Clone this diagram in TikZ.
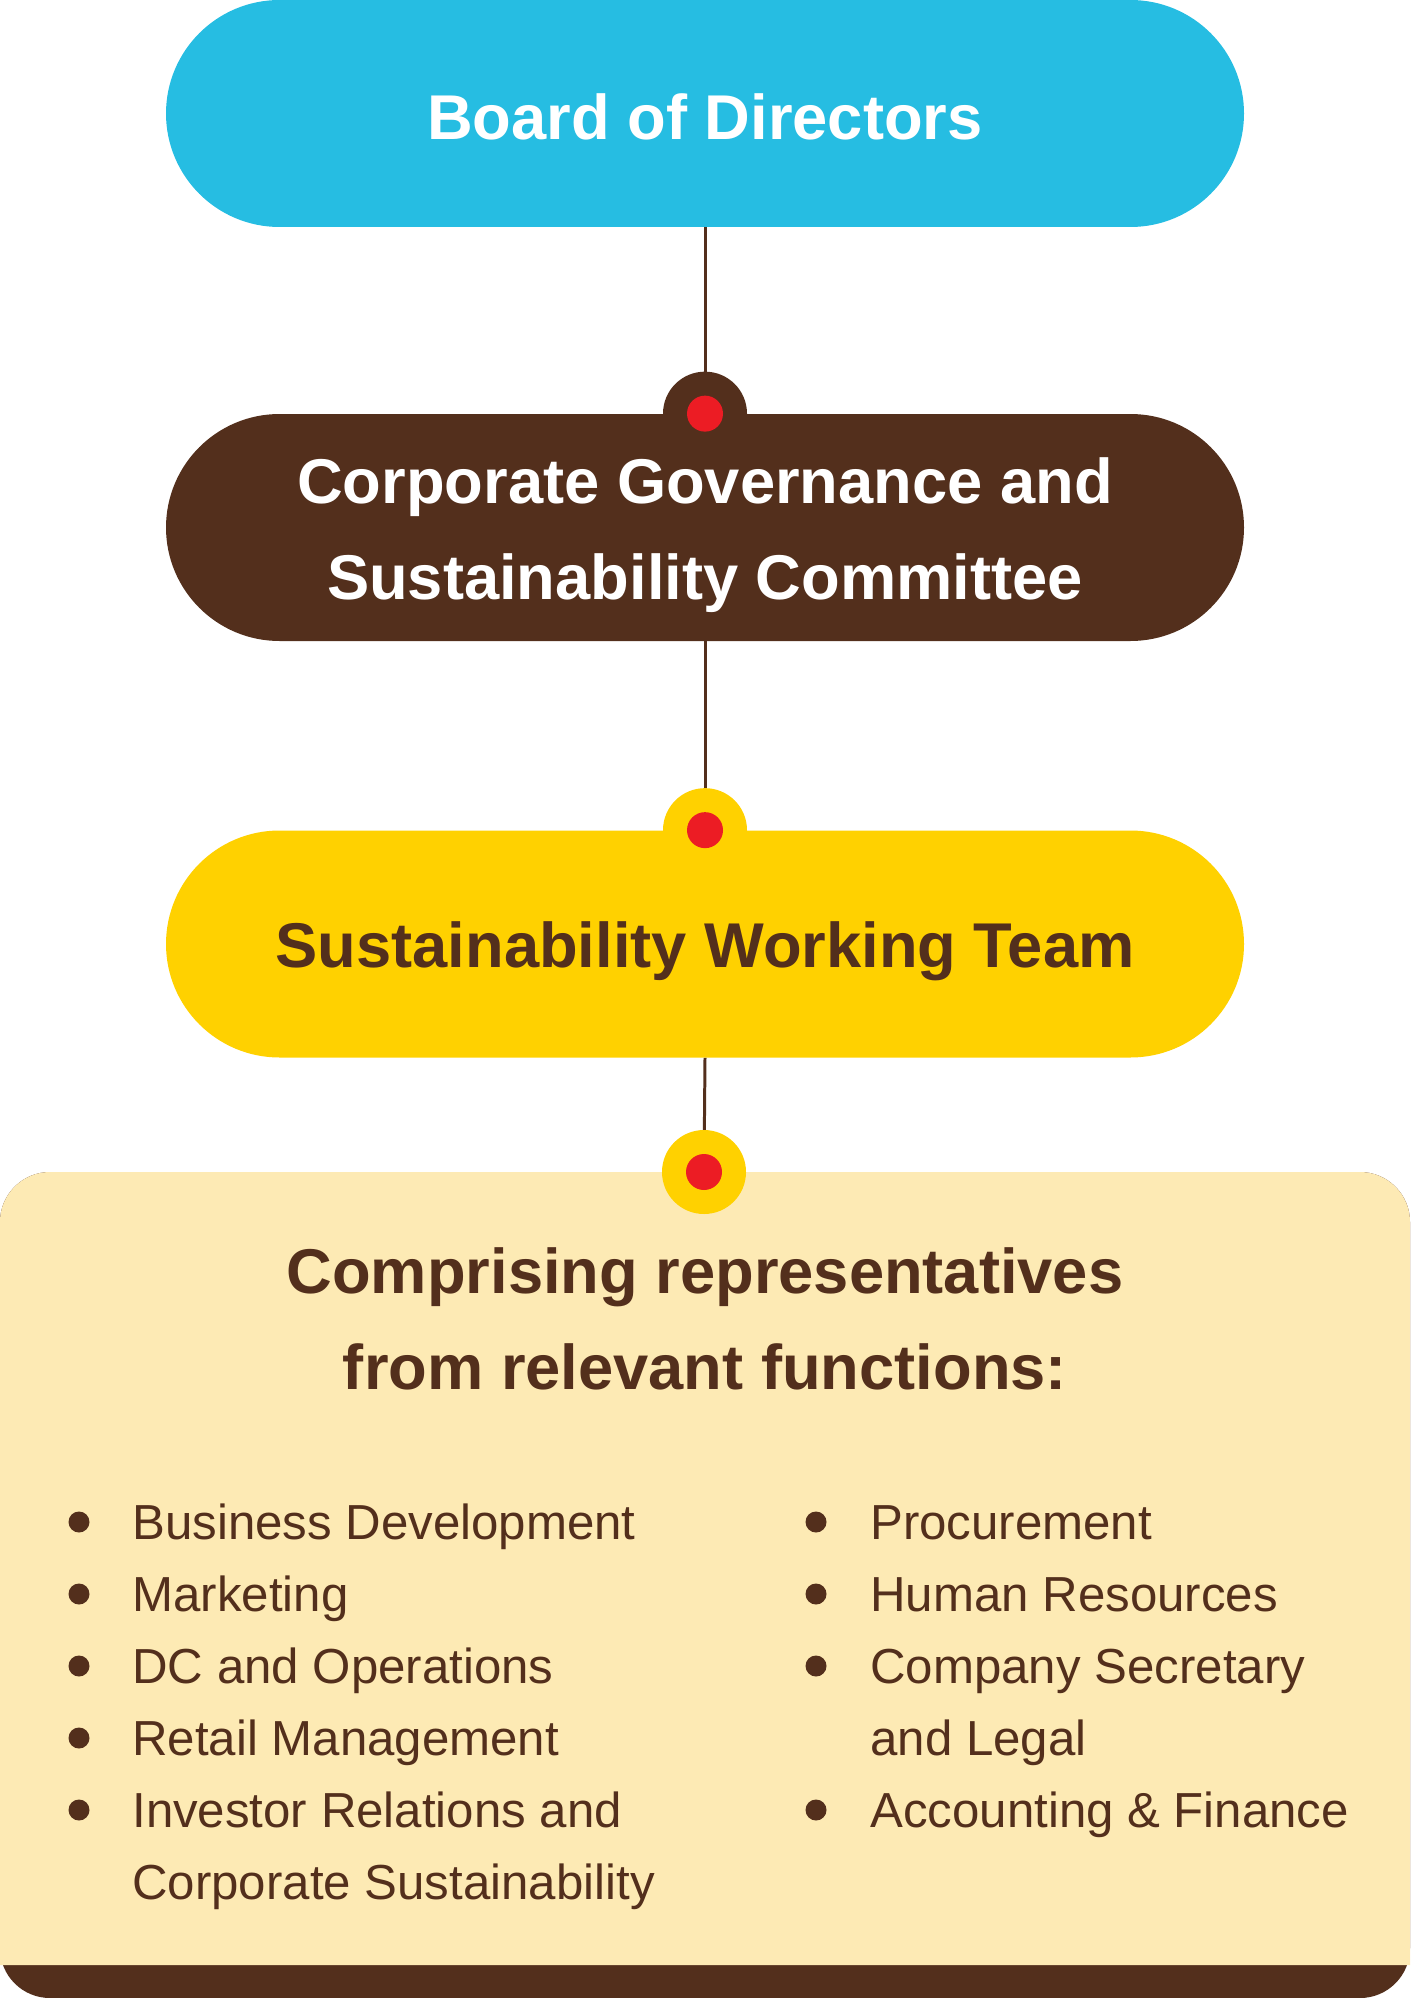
\documentclass[tikz,border=0pt]{standalone}
\usepackage{fontspec}
\setmainfont{Liberation Sans}
\usepackage{xcolor}
\usepackage{tikz}
\usetikzlibrary{positioning,calc}
\definecolor{skyblue}{HTML}{26BDE2}
\definecolor{darkbrown}{HTML}{532F1C}
\definecolor{goldyellow}{HTML}{FFD100}
\definecolor{paleyellow}{HTML}{FDEAB4}
\definecolor{dotred}{HTML}{EC1C24}
\tikzstyle{pill} = [rectangle, minimum width=21.56cm, minimum height=4.54cm, rounded corners=2.27cm, align=center, font=\fontsize{36}{54}\selectfont\bfseries]
\tikzstyle{label} = [align=center, inner sep=0pt, font=\fontsize{36}{54.6}\selectfont\bfseries]
\tikzstyle{link} = [draw=darkbrown, line width=1.7pt]
\tikzstyle{item} = [anchor=base west, inner sep=0pt, text=darkbrown, font=\fontsize{28}{40}\selectfont]
\tikzstyle{dot} = [circle, fill=darkbrown, minimum size=0.42cm, inner sep=0pt]

\begin{document}
\begin{tikzpicture}
        \useasboundingbox (0,0) rectangle (28.2,-39.96);
        % bottom panel with brown band
        \fill[darkbrown, rounded corners=1cm] (0,-23.44) rectangle (28.2,-39.96);
        \fill[paleyellow] (0,-24.44) [rounded corners=1cm] -- (0,-23.44) -- (28.2,-23.44) [sharp corners] -- (28.2,-39.3) -- (0,-39.3) -- cycle;
        \coordinate (panel) at (14.08,-23.44);
        % boxes
        \node[pill, fill=skyblue] (board) at (14.1,-2.27) {};
        \node[pill, fill=darkbrown] (cgsc) at (14.1,-10.55) {};
        \node[pill, fill=goldyellow] (swt) at (14.1,-18.88) {};
        \node[label, text=white] (boardtxt) at (14.1,-2.33) {Board of Directors};
        \node[label, text=white] (cgsctxt) at (14.1,-10.71) {Corporate Governance and\\Sustainability Committee};
        \node[label, text=darkbrown] (swttxt) at (14.1,-19.02) {Sustainability Working Team};
        % connectors
        \draw[link] (board.south) -- (cgsc.north);
        \draw[link] (cgsc.south) -- (swt.north);
        \draw[link] (swt.south) -- (panel);
        % knobs
        \fill[darkbrown] (cgsc.north) circle (0.84cm);
        \fill[goldyellow] (swt.north) circle (0.84cm);
        \fill[goldyellow] (panel) circle (0.84cm);
        \fill[dotred] (cgsc.north) circle (0.36cm);
        \fill[dotred] (swt.north) circle (0.36cm);
        \fill[dotred] (panel) circle (0.36cm);
        % heading
        \node[label, text=darkbrown] (head) at (14.1,-26.38) {Comprising representatives\\from relevant functions:};
        % left column
        \node[dot] (l1) at (1.58,-30.44) {};
        \node[item] (bd) at (2.64,-30.78) {Business Development};
        \node[dot] (l2) at (1.58,-31.88) {};
        \node[item] (mk) at (2.64,-32.22) {Marketing};
        \node[dot] (l3) at (1.58,-33.32) {};
        \node[item] (dc) at (2.64,-33.66) {DC and Operations};
        \node[dot] (l4) at (1.58,-34.76) {};
        \node[item] (rm) at (2.64,-35.10) {Retail Management};
        \node[dot] (l5) at (1.58,-36.20) {};
        \node[item] (ir) at (2.64,-36.54) {Investor Relations and};
        \node[item] (cs) at (2.64,-37.98) {Corporate Sustainability};
        % right column
        \node[dot] (r1) at (16.32,-30.44) {};
        \node[item] (pc) at (17.40,-30.78) {Procurement};
        \node[dot] (r2) at (16.32,-31.88) {};
        \node[item] (hr) at (17.40,-32.22) {Human Resources};
        \node[dot] (r3) at (16.32,-33.32) {};
        \node[item] (sec) at (17.40,-33.66) {Company Secretary};
        \node[item] (lg) at (17.40,-35.10) {and Legal};
        \node[dot] (r4) at (16.32,-36.20) {};
        \node[item] (af) at (17.40,-36.54) {Accounting \& Finance};
    \end{tikzpicture}
\end{document}
